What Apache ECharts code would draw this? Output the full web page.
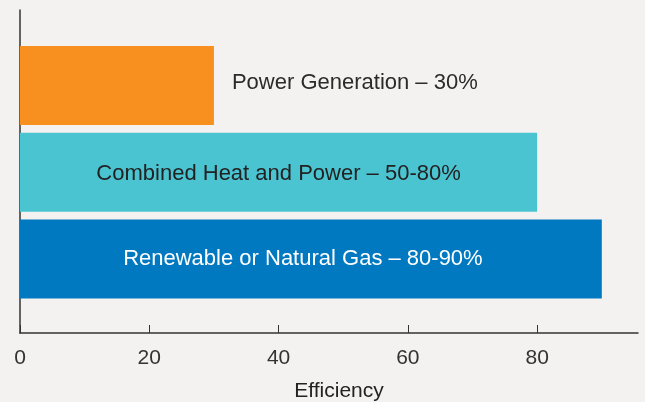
<!DOCTYPE html>
<html>
<head>
<meta charset="utf-8">
<script src="https://cdn.jsdelivr.net/npm/echarts@6/dist/echarts.min.js"></script>
<style>
  html, body { margin: 0; padding: 0; background: #f3f2f0; }
  #chart { width: 645px; height: 402px; }
</style>
</head>
<body>
<div id="chart"></div>
<script>
const categories = ['Power Generation', 'Combined Heat and Power', 'Renewable or Natural Gas']
const values = [30, 80, 90]
const barLabels = ['Power Generation – 30%', 'Combined Heat and Power – 50-80%', 'Renewable or Natural Gas – 80-90%']
const barColors = ['#f7901e', '#4bc4d2', '#0079c1']
const tickValues = [0, 20, 40, 60, 80]

const font = 'Liberation Sans, Arial, sans-serif'
const xMax = 95.6

// label placement per bar: first one sits outside, others inside
const labelStyles = [
  { position: 'right', distance: 18, color: '#2b2b2b', offset: [0, -2] },
  { position: 'inside', color: '#222222', offset: [0, 2] },
  { position: 'inside', color: '#ffffff', offset: [-8, 0] }
]

const chart = echarts.init(document.getElementById('chart'), null, { renderer: 'canvas' })

chart.setOption({
  backgroundColor: '#f3f2f0',
  animation: false,
  grid: [
    // bars
    { left: 20, right: 7, top: 42, bottom: 99.6, outerBoundsMode: 'none', containLabel: false },
    // visible axes
    { left: 20, right: 7, top: 10, bottom: 69, outerBoundsMode: 'none', containLabel: false }
  ],
  xAxis: [
    { gridIndex: 0, type: 'value', min: 0, max: xMax, show: false },
    {
      gridIndex: 1, type: 'value', min: 0, max: xMax, interval: 20,
      splitLine: { show: false },
      axisLine: { show: true, lineStyle: { color: '#333', width: 1.5 } },
      axisTick: { show: true, inside: true, length: 8, lineStyle: { color: '#333' }, customValues: tickValues },
      axisLabel: { color: '#333', fontSize: 21, fontFamily: font, margin: 15, customValues: tickValues },
      name: 'Efficiency',
      nameLocation: 'middle',
      nameGap: 48,
      nameTextStyle: { color: '#222', fontSize: 21, fontFamily: font, padding: [0, 0, 0, 20] }
    }
  ],
  yAxis: [
    { gridIndex: 0, type: 'category', data: categories, inverse: true, show: false },
    {
      gridIndex: 1, type: 'value', min: 0, max: 1,
      splitLine: { show: false },
      axisLine: { show: true, lineStyle: { color: '#333', width: 1.5 } },
      axisTick: { show: false },
      axisLabel: { show: false }
    }
  ],
  series: [
    {
      type: 'bar',
      xAxisIndex: 0,
      yAxisIndex: 0,
      barWidth: 79,
      data: values.map((v, i) => ({
        value: v,
        itemStyle: { color: barColors[i] },
        label: {
          show: true,
          formatter: barLabels[i],
          fontSize: 22,
          fontFamily: font,
          ...labelStyles[i]
        }
      }))
    }
  ]
})
</script>
</body>
</html>
